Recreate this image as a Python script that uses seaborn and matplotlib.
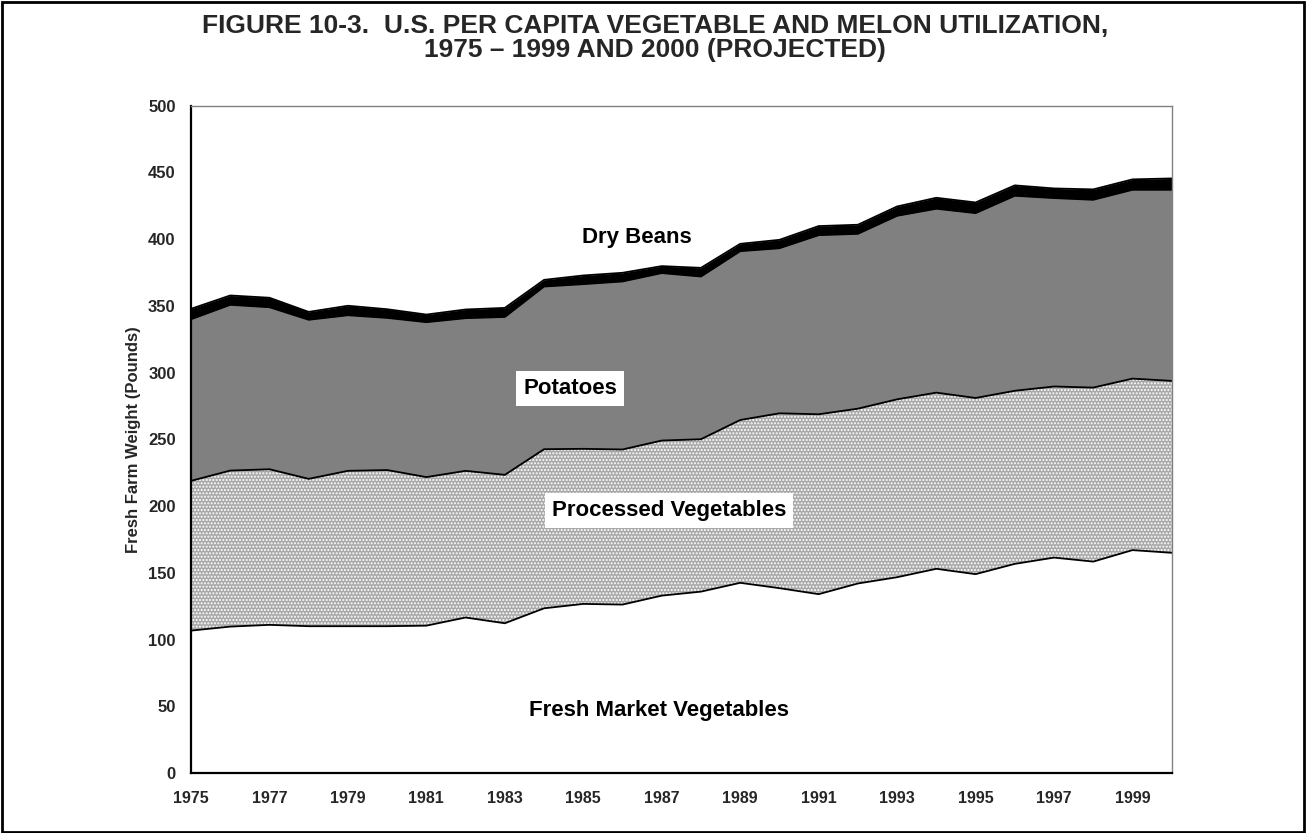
import pandas as pd
import numpy as np
import matplotlib.pyplot as plt
import seaborn as sns
from matplotlib.patches import Rectangle

# --- data (pounds per capita, fresh farm weight) ---
years = list(range(1975, 2001))
fresh_market = [106.7, 109.7, 111.0, 110.0, 110.0, 110.0, 110.4, 116.5, 112.2, 123.4,
                126.7, 126.2, 132.9, 135.9, 142.5, 138.5, 134.0, 142.0, 146.7, 153.0,
                149.0, 156.7, 161.4, 158.4, 167.0, 165.0]
processed = [112.2, 116.9, 116.6, 110.4, 116.4, 117.0, 111.3, 109.9, 111.2, 119.2,
             116.2, 116.2, 116.2, 114.2, 122.0, 131.0, 134.8, 131.0, 133.3, 132.0,
             132.0, 129.7, 128.2, 130.4, 128.5, 128.8]
potatoes = [121.1, 124.2, 121.4, 119.2, 116.6, 114.0, 116.1, 114.4, 118.3, 121.9,
            123.4, 125.9, 125.5, 121.9, 126.5, 123.7, 134.2, 131.0, 137.5, 137.8,
            138.5, 146.1, 141.2, 140.7, 141.5, 143.2]
dry_beans = [7.8, 7.0, 7.1, 5.9, 7.1, 6.5, 5.7, 6.5, 6.8, 5.0,
             6.5, 6.5, 5.2, 6.5, 5.5, 6.3, 6.8, 6.8, 7.0, 8.2,
             8.0, 7.8, 7.2, 7.8, 7.8, 8.5]

layer_names = ["Fresh Market Vegetables", "Processed Vegetables", "Potatoes", "Dry Beans"]
y_ticks = list(range(0, 501, 50))
x_tick_labels = [str(y) for y in range(1975, 2000, 2)]

df = pd.DataFrame({"Year": years,
                   "Fresh Market Vegetables": fresh_market,
                   "Processed Vegetables": processed,
                   "Potatoes": potatoes,
                   "Dry Beans": dry_beans})

# stack the layers
cum = df[layer_names].cumsum(axis=1)
cum["Year"] = df["Year"]

sns.set_style("white")
plt.rcParams['font.family'] = ['Liberation Sans', 'DejaVu Sans']
plt.rcParams['hatch.color'] = '#7a7a7a'
plt.rcParams['hatch.linewidth'] = 1.0

fig = plt.figure(figsize=(13.07, 8.33), dpi=100)
ax = fig.add_axes([191 / 1307, 1 - 773 / 833, 980.7 / 1307, 667.3 / 833])

fills = {
    "Fresh Market Vegetables": dict(facecolor="white"),
    "Processed Vegetables": dict(facecolor="#a8a8a8", hatch="....."),
    "Potatoes": dict(facecolor="#808080"),
    "Dry Beans": dict(facecolor="black"),
}
lower = np.zeros(len(years))
for name in layer_names:
    upper = cum[name].values
    ax.fill_between(df["Year"], lower, upper, linewidth=0, **fills[name])
    lower = upper

# boundary lines between the layers
lines = cum.melt(id_vars="Year", value_vars=layer_names, var_name="Layer", value_name="Total")
sns.lineplot(data=lines, x="Year", y="Total", units="Layer", estimator=None,
             color="black", linewidth=1.3, ax=ax, legend=False)

ax.set_xlim(1975, 2000)
ax.set_ylim(0, 500)
ax.set_yticks(y_ticks)
ax.set_yticklabels([str(v) for v in y_ticks], fontsize=12, fontweight="bold")
ax.set_xticks(years)
ax.set_xticklabels([str(y) if str(y) in x_tick_labels else "" for y in years],
                   fontsize=11.5, fontweight="bold")
ax.tick_params(axis="both", direction="out", length=5, width=1.2, color="black", pad=6)
ax.tick_params(axis="x", pad=8)
ax.set_xlabel("")
ax.set_ylabel("Fresh Farm Weight (Pounds)", fontsize=12, fontweight="bold", labelpad=5)

for side in ["left", "bottom"]:
    ax.spines[side].set_color("black")
    ax.spines[side].set_linewidth(1.6)
for side in ["top", "right"]:
    ax.spines[side].set_color("#808080")
    ax.spines[side].set_linewidth(1.0)
ax.set_zorder(2)

# in-chart labels
label_kw = dict(ha="center", va="center", fontsize=16, fontweight="bold", color="black")
ax.text(1986.36, 401, "Dry Beans", **label_kw)
ax.text(1984.66, 288, "Potatoes",
        bbox=dict(facecolor="white", edgecolor="none", pad=5), **label_kw)
ax.text(1987.18, 196.5, "Processed Vegetables",
        bbox=dict(facecolor="white", edgecolor="none", pad=5), **label_kw)
ax.text(1986.93, 47, "Fresh Market Vegetables", **label_kw)

fig.text(0.501, 1 - 14 / 833,
         "FIGURE 10-3.  U.S. PER CAPITA VEGETABLE AND MELON UTILIZATION,\n1975 \u2013 1999 AND 2000 (PROJECTED)",
         ha="center", va="top", fontsize=19, fontweight="bold", linespacing=1.0)

# outer frame
fig.patches.append(Rectangle((2 / 1307, 1 / 833), 1302 / 1307, 830 / 833,
                             transform=fig.transFigure, fill=False,
                             edgecolor="black", linewidth=2.0))

plt.savefig("out.png", dpi=100)
